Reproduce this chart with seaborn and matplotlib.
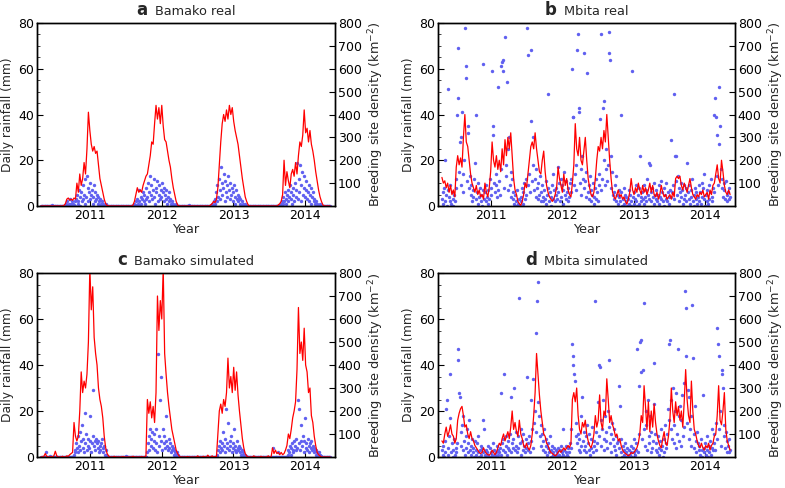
import numpy as np
import pandas as pd
import matplotlib
matplotlib.use("Agg")
import matplotlib.pyplot as plt
from matplotlib.offsetbox import TextArea, HPacker, AnchoredOffsetbox
from matplotlib.ticker import MultipleLocator
import matplotlib.dates as mdates
import seaborn as sns

sns.set_style("ticks")
plt.rcParams["font.family"] = ["DejaVu Sans"]

# time span covered by the series (samples are evenly spaced over it)
START = "2010-04-27"
END = "2014-05-08"


def vals(s):
    return np.array(s.split(), dtype=float)


# ---- daily rainfall (mm), one sample every ~0.01 yr ----
BAMAKO_REAL_RAIN = vals("""
0 0 0 0 0 0 0 0 0 0 0 0 0 0 0 0.5 0 0 0 0 0 0 0 0 0 0 0 0 0 0 0 0 0
0.5 0 1 0 2 0.5 1 0 3 1 0 2 1 0.5 2 0 3 5 1 2 7 4 0 6 2 9 3 5 12 1
4 13 8 2 6 10 3 5 7 1 4 9 2 6 3 5 1 4 2 0 3 1 2 0 1 0 0.5 0 1 0 0
0 0 0 0 0 0 0 0 0 0 0 0 0 0 0 0 0 0 0 0 0 0 0 0 0 0 0 0 0 0 0 0 0 0 0 0
1 0 2 0.5 3 1 7 2 0 4 1 3 6 2 5 1 8 3 4 10 2 6 13 5 9 3 7 12 4 1
8 6 11 2 5 9 3 7 4 10 6 2 8 5 3 7 1 4 2 6 3 1 2 0 1 0 0.5 0 1 0 0
0 0 0 0 0 0 0 0 0 0 0 0 0 0 0 0 0.5 0 0 0 0 0 0 0 0 0 0 0 0 0 0 0 0 0 0 0 0 0 0 0 0 0 0 0 0 0 0
0.5 1 0 2 1 3 6 2 9 4 12 7 3 17 10 5 8 14 2 11 6 9 4 13 7 3 10 5 8 2
6 9 4 1 7 3 5 2 4 1 3 0 2 1 0 0.5 0 1 0 0 0
0 0 0 0 0 0 0 0 0 0 0 0 0 0 0 0 0 0 0 0 0 0 0 0 0 0 0 0 0 0 0 0 0 0 0 0 0 0 0 0 0 0 0 0
0.5 1 0 2 1 4 2 6 3 1 5 2 7 4 9 3 6 1 8 5 2 10 4 7 19 3 12 6 18 9
2 15 5 8 13 4 7 11 3 6 9 2 5 8 1 4 6 2 3 1 2 0 1 0 0.5 0 1 0 0 0 0
0 0 0 0 0 0 0 0 0 0
""")

MBITA_REAL_RAIN = vals("""
3 6 1 8 2 20 5 0 7 51 4 2 9 1 6 3 0 5 2 8
12 40 47 69 15 28 30 9 41 6 14 20 78 61 56 11 35 32 8 13
5 9 2 7 4 12 19 40 3 6 10 1 4 8 2 5 0 7 62 3
6 2 9 4 1 7 3 12 5 8 59 35 31 10 6 14 9 4 52 7
11 5 16 61 63 64 59 8 74 13 18 54 7 25 30 9 15 4 12 6
3 1 5 0 2 7 0 1 3 0 4 2 8 1 6 10 3 12 5 78
66 9 14 6 68 37 11 18 30 7 12 4 16 8 3 10 5 13 2 6
9 4 2 7 3 11 1 5 49 8 2 6 0 4 9 3 14 7 2 5
8 3 17 6 10 2 12 4 9 1 7 15 5 3 11 6 2 8 4 10
12 6 60 39 39 9 14 18 7 68 75 41 43 10 16 5 22 12 8 67
11 4 15 58 6 9 3 13 2 7 5 10 1 4 8 3 12 6 2 9
14 38 7 75 12 43 46 20 9 16 25 11 18 67 76 64 22 8 15 5
6 3 9 2 13 5 1 7 4 2 40 6 0 3 8 1 5 2 4 0
3 7 1 5 0 2 59 4 1 6 3 9 2 0 5 8 1 22 4 2
6 3 9 1 4 7 2 12 5 3 19 18 6 2 8 4 10 1 5 3
7 2 5 9 1 4 11 3 6 2 8 0 5 3 10 2 6 4 1 7
4 29 6 9 49 3 22 22 11 5 13 8 2 6 10 4 7 1 9 3
5 8 2 19 6 3 9 1 4 7 12 2 5 0 8 3 6 1 4 9
2 6 1 10 4 8 3 14 0 5 2 7 1 9 3 6 12 2 4 8
6 40 47 39 13 31 9 27 52 35 16 8 12 4 10 7 3 11 5 2
6 3 8 4
""")

BAMAKO_SIM_RAIN = vals("""
0 0 0 0 0 0 0 2 0 0 0 0 0.5 0 0 0 0 0 0 0 0 0 0 0 0 0 0 0 0 0 0 0 0 0 0 0 0 0 0 0 0 0 0 0 0 0
1 3 2 6 4 9 2 5 11 3 7 14 4 8 2 19 6 10 3 5 8 4 7 18 2 6 9 29 5 7
3 8 6 4 7 2 5 3 6 8 4 2 5 1 3 1 0.5
0 0 0 0 0 0 0 0 0 0 0 0 0 0 0 0 0 0 0 0 0 0 0 0 0 0 0.5 0 0 0 0 0 0 0 0 0 0 0 0 0
0 0 0 0 0 0 0 0 0 0 0 0 0 0 0
2 6 9 3 12 5 8 11 4 7 10 3 6 12 2 45 9 5 25 7 35 3 12 6 9 4 18 7 5 3
8 4 6 2 5 3 4 1 3 2 1 2 0.5 1 0
0 0 0 0 0 0 0 0 0 0 0 0 0 0 0 0 0 0 0 0 0 0 0 0 0 0 0 0 0 0 0 0 0 0 0 0 0 0 0 0
0 0 0 0 0 0 0 0 0 0 0 0 0
1 3 5 2 7 4 6 3 11 5 8 2 21 6 4 15 3 7 5 9 2 6 4 12 3 5 2 7 4 3
5 2 4 1 3 2 1 0.5 1 0 0.5
0 0 0 0 0 0 0 0 0 0 0 0 0 0 0 0 0 0 0 0 0 0 0 0 0 0 0 0 0 0 0 0 0 0 0 0 0 4 0 0
0 0 0 2 0 0 0 0 0 0 0 0 0 0 0 0 0
1 3 2 5 1 4 6 3 2 7 5 3 8 4 25 6 21 3 7 14 5 9 2 7 17 4 6 3 8 5
2 6 4 7 3 5 2 4 3 1 3 2 1 2 0.5 1 0 0.5 0
0 0 0 0 0 0 0 0 0 0 0
""")

MBITA_SIM_RAIN = vals("""
3 1 5 0 2 7 21 25 4 1 9 17 36 2 6 0 3 8 1 4
2 6 47 42 28 26 11 5 14 3 18 7 1 9 4 12 2 6 16 3
5 1 8 2 4 0 7 3 1 6 2 9 0 3 5 1 4 2 16 12
1 3 0 2 5 1 0 4 2 0 1 6 0 3 1 2 0 5 1 3
2 4 28 1 6 3 8 36 2 5 9 1 4 7 3 10 2 26 6 4
8 30 3 11 5 2 9 4 69 6 12 1 7 3 10 5 2 8 4 35
6 3 9 2 25 7 12 4 34 15 20 11 54 68 76 24 18 9 14 5
10 3 7 12 2 5 8 1 4 6 2 9 0 3 5 1 2 4 0 3
1 2 0 4 1 3 5 0 2 1 12 3 0 2 5 1 4 0 2 6
4 12 49 44 40 36 33 9 15 6 10 3 8 2 5 18 26 7 3 11
5 9 2 14 6 3 10 1 8 4 13 2 7 5 68 11 3 6 24 40
9 39 16 5 12 25 8 3 18 7 11 4 20 42 13 6 10 2 15 8
5 12 3 9 1 6 7 31 4 22 2 8 0 5 1 3 6 0 2 4
1 0 3 1 5 2 0 4 8 2 1 3 6 47 2 31 10 50 37 51
8 38 12 67 5 20 14 3 25 9 6 18 2 11 4 7 23 41 10 3
6 2 9 4 1 7 3 12 5 0 8 2 14 4 6 10 21 49 16 51
12 25 8 30 6 14 20 4 28 10 47 18 7 22 5 16 27 9 32 13
72 65 44 15 29 8 26 12 5 18 66 43 10 4 22 7 2 11 6 3
5 1 8 3 0 27 4 2 6 1 9 3 0 5 2 7 1 4 12 3
6 10 3 15 8 56 49 44 12 20 5 38 36 30 9 14 4 11 7 2
5 2 8 3
""")

# ---- breeding site density (km^-2), one sample every ~0.02 yr ----
BAMAKO_REAL_DENS = vals("""
0 0 0 0 0 0 0 0 0 0 0 0 0 0 0 0
3 10 30 35 25 30 25 35 30 100 60 140 90 120 190 140 250 410 330 270
240 260 230 240 180 120 90 60 30 10 3
0 0 0 0 0 0 0 0 0 0 0 0 0 0 0 0 0
5 20 50 80 60 70 60 90 110 130 140 180 220 280 270 360 440 380 430 360
440 350 290 280 240 200 170 120 80 50 20 5
0 0 0 0 0 0 0 0 0 0 0 0 0 0 0 0 0 0 0 0 0 0
5 10 20 15 30 80 180 280 360 400 370 420 380 440 400 430 370 330 300 270
220 170 120 80 40 20 5
0 0 0 0 0 0 0 0 0 0 0 0 0 0 0 0 0 0 0 0
5 10 20 50 200 90 150 110 80 140 160 130 190 140 220 280 260 310 420 320
340 280 330 270 240 200 150 110 70 40 20 5
0 0 0 0 0
""")

MBITA_REAL_DENS = vals("""
125 100 110 80 100 60 90 50 70 40 170 220 180 210 170 300 400 280 260 200
140 100 80 60 90 50 70 40 50 30 100 60 40 80 150 280 200 170 220 160
200 150 250 180 290 220 300 250 320 220 120 70 50 20 10 3 20 50 100 80
140 200 260 280 250 320 250 200 150 140 200 240 150 90 60 40 30 20 30 50
80 170 120 90 60 140 90 120 70 50 40 100 180 360 250 220 300 200 180 240
300 200 120 80 50 40 60 120 200 260 240 300 250 330 280 400 300 200 120 60
40 30 50 70 40 50 30 40 20 8 30 60 120 70 50 80 60 100 70 50
90 60 80 50 70 100 60 90 50 40 60 30 50 90 60 40 50 30 40 50
30 60 40 120 130 120 130 90 70 100 80 60 90 120 80 50 40 30 50 40
60 50 70 40 50 60 30 70 50 90 100 140 180 120 100 200 150 90 60 50
70 50
""")

BAMAKO_SIM_DENS = vals("""
0 0 3 15 3 0 0 2 0 5 25 5 0 0 0 3 0 0 5 3
10 15 20 150 90 70 90 200 370 280 330 300 360 500 820 640 740 520 450 400
300 250 220 170 90 40 15 5
0 0 0 3 0 0 0 0 0 2 0 0 0 0 0 0 3 0 0 0 0 0 2 0 0 5
250 190 240 170 220 150 280 700 550 680 600 820 450 360 280 220 170 120 90 60
30 15 5
0 0 0 0 0 2 0 0 0 0 0 0 5 0 0 0 3 0 0 8 0 0 5 0 2 0
100 200 230 190 250 220 280 430 300 350 280 390 290 370 270 200 140 80 40 15
5
0 0 0 0 5 0 0 0 0 3 0 0 0 0 5 0 0
40 15 30 15 20 10 20 10 15 30 50 100 80 120 170 200 240 380 650 450
500 420 560 400 370 280 300 180 150 90 50 20 10 5
0 0 0 0 0 0 0
""")

MBITA_SIM_DENS = vals("""
70 60 100 130 90 110 140 100 90 60 80 160 190 210 220 180 130 140 100 80
110 80 70 50 40 30 20 15 20 40 25 15 10 8 15 30 20 10 20 40
60 50 80 100 70 90 110 80 130 200 120 150 110 90 160 100 80 50 40 60
40 30 50 100 180 280 450 360 270 200 150 100 90 60 50 30 20 15 10 5
10 20 30 20 30 40 30 40 50 40 60 250 280 240 300 180 120 100 150 130
160 100 70 50 40 60 100 180 130 160 270 150 120 200 180 340 250 150 180 140
120 90 100 70 80 50 30 20 15 10 5 10 20 15 20 30 40 60 100 180
150 310 220 120 240 110 200 130 230 150 100 70 50 40 80 110 60 50 90 160
300 200 150 240 180 220 160 200 130 240 380 250 180 150 330 200 120 100 70 50
40 60 40 30 50 40 60 30 50 60 90 100 180 310 160 140 200 280 120 70
50 30
""")

PANELS = [
    ("a", "Bamako real", BAMAKO_REAL_RAIN, BAMAKO_REAL_DENS),
    ("b", "Mbita real", MBITA_REAL_RAIN, MBITA_REAL_DENS),
    ("c", "Bamako simulated", BAMAKO_SIM_RAIN, BAMAKO_SIM_DENS),
    ("d", "Mbita simulated", MBITA_SIM_RAIN, MBITA_SIM_DENS),
]

W, H = 785, 488
RECTS = [
    (37, 23, 335, 206),
    (438, 23, 735, 206),
    (37, 273, 335, 457),
    (438, 273, 735, 457),
]

DOT = "#6060f0"
TICK_FS = 9
LABEL_FS = 8.8


def plot_panel(fig, rect, letter, name, rain, dens):
    x0, y0, x1, y1 = rect
    ax = fig.add_axes([x0 / W, 1 - y1 / H, (x1 - x0) / W, (y1 - y0) / H])
    rain_dates = pd.date_range(START, END, periods=len(rain))
    dens_dates = pd.date_range(START, END, periods=len(dens))

    sns.scatterplot(x=rain_dates, y=rain, ax=ax, s=6, color=DOT,
                    linewidth=0, zorder=2)
    ax2 = ax.twinx()
    sns.lineplot(x=dens_dates, y=dens, ax=ax2, color="red", linewidth=0.9)

    ax.set_xlim(pd.Timestamp("2010-04-07"), pd.Timestamp("2014-06-02"))
    ax.set_ylim(0, 80)
    ax2.set_ylim(0, 800)
    ax.yaxis.set_major_locator(MultipleLocator(20))
    ax.yaxis.set_minor_locator(MultipleLocator(5))
    ax2.set_yticks(range(100, 801, 100))
    ax.xaxis.set_major_locator(mdates.YearLocator())
    ax.xaxis.set_major_formatter(mdates.DateFormatter("%Y"))

    ax.tick_params(axis="both", which="major", direction="in", length=4,
                   width=0.8, labelsize=TICK_FS, pad=2, colors="black")
    ax.tick_params(axis="y", which="minor", direction="in", length=2,
                   width=0.6)
    ax2.tick_params(axis="y", which="major", direction="in", length=4,
                    width=0.8, labelsize=TICK_FS, pad=2, colors="black")

    ax.set_xlabel("Year", fontsize=9.3, labelpad=1)
    ax.set_ylabel("Daily rainfall (mm)", fontsize=LABEL_FS, labelpad=3)
    ax2.set_ylabel("Breeding site density (km$^{-2}$)", fontsize=9.3,
                   labelpad=3)

    for a in (ax, ax2):
        for sp in a.spines.values():
            sp.set_color("black")
            sp.set_linewidth(1.0)

    title = HPacker(children=[
        TextArea(letter, textprops=dict(fontsize=12, fontweight="bold")),
        TextArea(name, textprops=dict(fontsize=9.3)),
    ], align="baseline", pad=0, sep=5)
    box = AnchoredOffsetbox(loc="lower center", child=title, pad=0,
                            borderpad=0.3, frameon=False,
                            bbox_to_anchor=(0.5, 1.0),
                            bbox_transform=ax.transAxes)
    ax.add_artist(box)


fig = plt.figure(figsize=(W / 100, H / 100), dpi=100)
for rect, (letter, name, rain, dens) in zip(RECTS, PANELS):
    plot_panel(fig, rect, letter, name, rain, dens)

fig.savefig("out.png", dpi=100)
